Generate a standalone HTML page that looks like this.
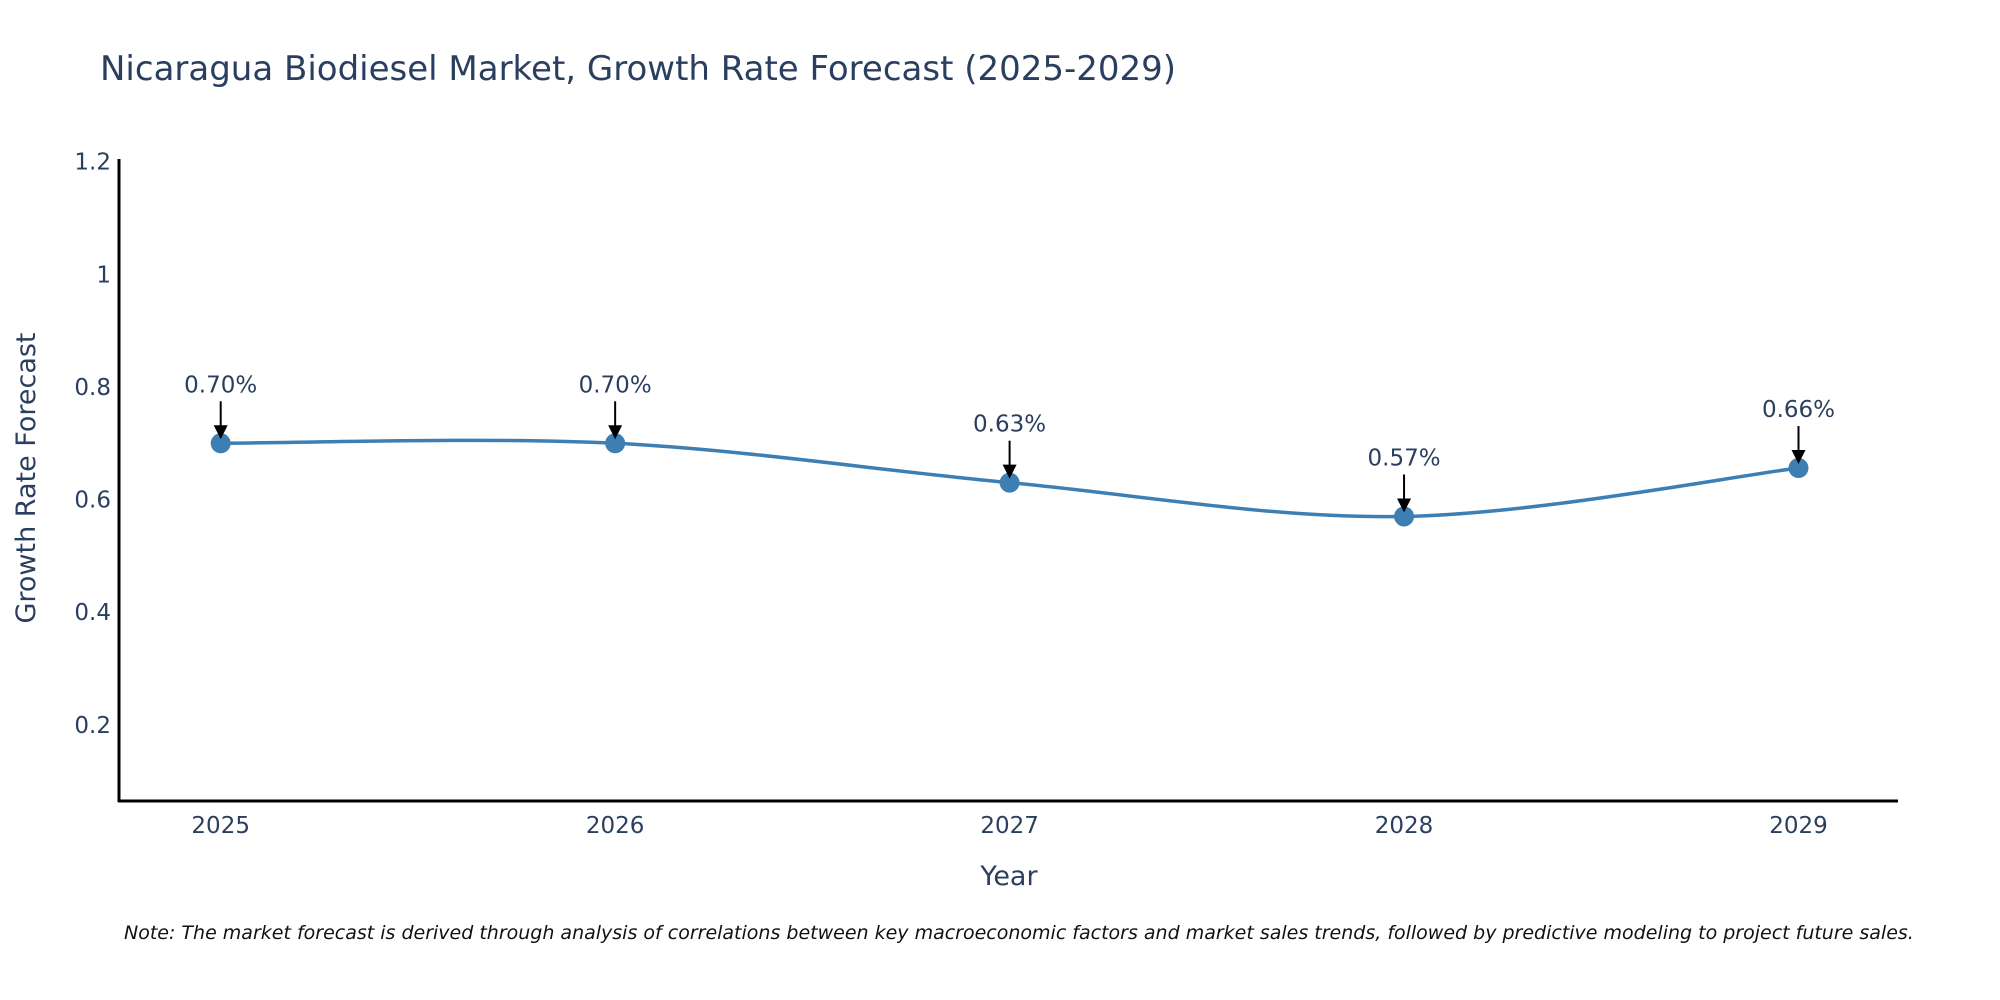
<!DOCTYPE html>
<html><head><meta charset="utf-8">
<style>
body{margin:0;background:#fff;}
svg{display:block;font-family:"DejaVu Sans","Liberation Sans",sans-serif;}
</style></head>
<body>
<svg id="chart" width="2000" height="1000" viewBox="0 0 2000 1000">
<text x="100" y="80" font-size="34" fill="#2a3f5f">Nicaragua Biodiesel Market, Growth Rate Forecast (2025-2029)</text>
<g id="yticks"></g>
<g id="xticks"></g>
<line x1="119" y1="159" x2="119" y2="802" stroke="#000" stroke-width="3"/>
<line x1="118" y1="801" x2="1898" y2="801" stroke="#000" stroke-width="3"/>
<g id="series"></g>
<g id="annos"></g>
<text transform="translate(35,478) rotate(-90)" text-anchor="middle" font-size="27" fill="#2a3f5f">Growth Rate Forecast</text>
<text x="1009" y="885" text-anchor="middle" font-size="27" fill="#2a3f5f">Year</text>
<text x="124" y="939" font-size="19" font-style="italic" fill="#111">Note: The market forecast is derived through analysis of correlations between key macroeconomic factors and market sales trends, followed by predictive modeling to project future sales.</text>
</svg>
<script>
const years = ["2025","2026","2027","2028","2029"];
const values = [0.70, 0.70, 0.63, 0.57, 0.656];
const labels = ["0.70%","0.70%","0.63%","0.57%","0.66%"];
const yTicks = [0.2, 0.4, 0.6, 0.8, 1, 1.2];
const yTickLabels = ["0.2","0.4","0.6","0.8","1","1.2"];

const NS = "http://www.w3.org/2000/svg";
function xScale(i){ return 220.7 + i * (1798.5 - 220.7) / 4; }
function yScale(v){ return 837.5 - v * 563.2; }
function mk(tag, attrs, parent){
  const e = document.createElementNS(NS, tag);
  for (const k in attrs) e.setAttribute(k, attrs[k]);
  parent.appendChild(e); return e;
}
const yt = document.getElementById('yticks');
yTicks.forEach((v, i) => {
  const t = mk('text', {x: 111, y: yScale(v) + 8, 'text-anchor': 'end', 'font-size': 23, fill: '#2a3f5f'}, yt);
  
  
  t.textContent = yTickLabels[i];
});
const xt = document.getElementById('xticks');
years.forEach((y, i) => {
  const t = mk('text', {x: xScale(i), y: 833, 'text-anchor': 'middle', 'font-size': 23, fill: '#2a3f5f'}, xt);
  
  
  t.textContent = y;
});
const pts = values.map((v, i) => [xScale(i), yScale(v)]);
let d = `M${pts[0][0]},${pts[0][1]}`;
for (let i = 0; i < pts.length - 1; i++) {
  const p0 = pts[Math.max(i - 1, 0)], p1 = pts[i], p2 = pts[i + 1], p3 = pts[Math.min(i + 2, pts.length - 1)];
  const c1 = [p1[0] + (p2[0] - p0[0]) / 6, p1[1] + (p2[1] - p0[1]) / 6];
  const c2 = [p2[0] - (p3[0] - p1[0]) / 6, p2[1] - (p3[1] - p1[1]) / 6];
  d += ` C${c1[0]},${c1[1]} ${c2[0]},${c2[1]} ${p2[0]},${p2[1]}`;
}
const s = document.getElementById('series');
const line = mk('path', {d: d, fill: 'none', stroke: '#3d7fb3', 'stroke-width': 3.5}, s);


pts.forEach((p, i) => {
  const c = mk('circle', {cx: p[0], cy: p[1], r: 10, fill: '#3d7fb3'}, s);
  
  
});
const a = document.getElementById('annos');
pts.forEach((p, i) => {
  const l = mk('line', {x1: p[0], y1: p[1] - 42, x2: p[0], y2: p[1] - 16, stroke: '#000', 'stroke-width': 2}, a);
  
  
  const h = mk('path', {d: `M${p[0]-7},${p[1]-18} L${p[0]+7},${p[1]-18} L${p[0]},${p[1]-4} Z`, fill: '#000'}, a);
  
  
  const t = mk('text', {x: p[0], y: p[1] - 51, 'text-anchor': 'middle', 'font-size': 23, fill: '#2a3f5f'}, a);
  
  
  t.textContent = labels[i];
});
</script>
</body></html>
